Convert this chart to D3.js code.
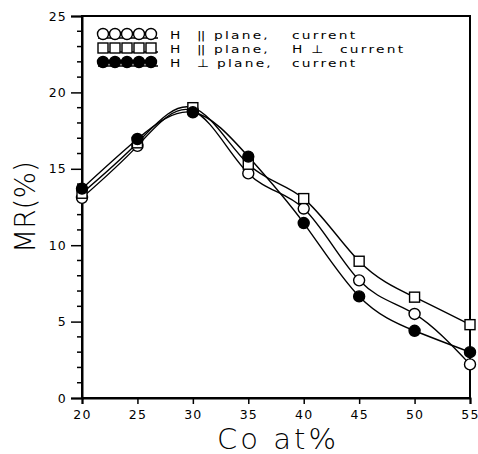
<!DOCTYPE html>
<html>
<head>
<meta charset="utf-8">
<script src="https://cdn.jsdelivr.net/npm/d3@7"></script>
<style>
  body { margin: 0; background: #fff; }
  text { font-family: "DejaVu Sans", sans-serif; fill: #000; }
</style>
</head>
<body>
<div id="myChart"></div>
<script>
const coContent = [20, 25, 30, 35, 40, 45, 50, 55];
// H || plane, || current (open circles)
const mrParallel = [13.1, 16.5, 18.8, 14.7, 12.4, 7.7, 5.5, 2.2];
// H || plane, H perp current (open squares)
const mrTransverse = [13.4, 16.7, 19.0, 15.3, 13.05, 8.95, 6.6, 4.8];
// H perp plane, current (filled circles)
const mrPerpendicular = [13.7, 16.95, 18.7, 15.8, 11.45, 6.65, 4.4, 3.0];
const xTicks = [20, 25, 30, 35, 40, 45, 50, 55];
const yTicks = [0, 5, 10, 15, 20, 25];
const legendLabels = [
    ["H", "||", "plane,", "", "current"],
    ["H", "||", "plane,", "H \u22A5", "current"],
    ["H", "\u22A5", "plane,", "", "current"]
];

const size = {
    width: 478,
    height: 454,
    margin: { top: 16, right: 8, bottom: 56, left: 82 }
};

const drawChart = function(size) {
    const svg = d3.select("#myChart")
        .append("svg")
        .attr("width", size.width)
        .attr("height", size.height);

    const w = size.width - size.margin.left - size.margin.right;
    const h = size.height - size.margin.top - size.margin.bottom;

    const g = svg.append("g")
        .attr("transform", `translate(${size.margin.left}, ${size.margin.top})`);

    const x = d3.scaleLinear().domain([20, 55]).range([0, w]);
    const y = d3.scaleLinear().domain([0, 25]).range([h, 0]);

    // frame
    g.append("rect")
        .attr("width", w).attr("height", h)
        .attr("fill", "none").attr("stroke", "#000").attr("stroke-width", 2);

    // x axis
    const xAxis = g.append("g")
        .attr("transform", `translate(0, ${h})`)
        .call(d3.axisBottom(x).tickValues(xTicks).tickSize(6).tickPadding(6));
    xAxis.select(".domain").attr("stroke-width", 2);
    xAxis.selectAll(".tick line").attr("stroke-width", 1.5);
    xAxis.selectAll("text").attr("font-size", 12.5).attr("letter-spacing", 1.2)
        .attr("font-family", "DejaVu Sans");

    // y axis minor ticks
    const minor = d3.range(0, 26).filter(v => v % 5 !== 0);
    g.append("g").selectAll("line").data(minor).enter().append("line")
        .attr("x1", -5).attr("x2", 0)
        .attr("y1", d => y(d)).attr("y2", d => y(d))
        .attr("stroke", "#000").attr("stroke-width", 1.5);

    const yAxis = g.append("g")
        .call(d3.axisLeft(y).tickValues(yTicks).tickSize(11).tickPadding(4));
    yAxis.select(".domain").attr("stroke-width", 2);
    yAxis.selectAll(".tick line").attr("stroke-width", 1.5);
    yAxis.selectAll("text").attr("font-size", 12.5).attr("letter-spacing", 1.2)
        .attr("font-family", "DejaVu Sans");

    // axis titles
    svg.append("text")
        .attr("x", size.margin.left + w / 2 + 2)
        .attr("y", 449)
        .attr("text-anchor", "middle")
        .attr("font-size", 29)
        .attr("font-weight", 200)
        .attr("letter-spacing", 3)
        .text("Co  at%");

    svg.append("text")
        .attr("transform", `translate(35, ${size.margin.top + h / 2}) rotate(-90)`)
        .attr("text-anchor", "middle")
        .attr("font-size", 28)
        .attr("font-weight", 200)
        .text("MR(%)");

    const series = [
        { values: mrParallel, shape: "circle", fill: "#fff" },
        { values: mrTransverse, shape: "square", fill: "#fff" },
        { values: mrPerpendicular, shape: "circle", fill: "#000" }
    ];

    const line = d3.line()
        .x(d => x(d[0]))
        .y(d => y(d[1]))
        .curve(d3.curveNatural);

    series.forEach(s => {
        const pts = coContent.map((c, i) => [c, s.values[i]]);
        g.append("path")
            .datum(pts)
            .attr("d", line)
            .attr("fill", "none")
            .attr("stroke", "#000")
            .attr("stroke-width", 1.4);
    });

    const drawMarker = function(sel, s, cx, cy) {
        if (s.shape === "circle") {
            sel.append("circle")
                .attr("cx", cx).attr("cy", cy).attr("r", 5.5)
                .attr("fill", s.fill).attr("stroke", "#000").attr("stroke-width", 1.4);
        } else {
            sel.append("rect")
                .attr("x", cx - 5).attr("y", cy - 5)
                .attr("width", 10).attr("height", 10)
                .attr("fill", s.fill).attr("stroke", "#000").attr("stroke-width", 1.4);
        }
    };

    // markers: circles, then squares, then filled circles on top
    series.forEach(s => {
        const mg = g.append("g");
        coContent.forEach((c, i) => drawMarker(mg, s, x(c), y(s.values[i])));
    });

    // legend (text is stretched sideways like the wide plotter font)
    const sx = 1.25;
    const legend = g.append("g").attr("transform", "translate(16, 18)");
    series.forEach((s, k) => {
        const row = legend.append("g").attr("transform", `translate(0, ${k * 14})`);
        row.append("line")
            .attr("x1", 0).attr("x2", 60)
            .attr("y1", 4).attr("y2", 4)
            .attr("stroke", "#000").attr("stroke-width", 1.4);
        d3.range(5).forEach(j => drawMarker(row, s, j * 12 + 5, 0));
        const lab = legendLabels[k];
        const t = row.append("text")
            .attr("transform", `scale(${sx}, 1)`)
            .attr("y", 5)
            .attr("font-size", 11)
            .attr("letter-spacing", 1.8);
        t.append("tspan").attr("x", 72 / sx).text(lab[0]);
        t.append("tspan").attr("x", 99 / sx)
            .attr("letter-spacing", k === 2 ? 1.8 : -0.6).text(lab[1]);
        t.append("tspan").attr("x", (k === 2 ? 119 : 116) / sx)
            .attr("letter-spacing", 1.8).text(lab[2]);
        if (lab[3]) {
            t.append("tspan").attr("x", 194 / sx).text(lab[3]);
            t.append("tspan").attr("x", 242 / sx).text(lab[4]);
        } else {
            t.append("tspan").attr("x", 194 / sx).text(lab[4]);
        }
    });
};

window.onload = () => {
    drawChart(size);
};
</script>
</body>
</html>
